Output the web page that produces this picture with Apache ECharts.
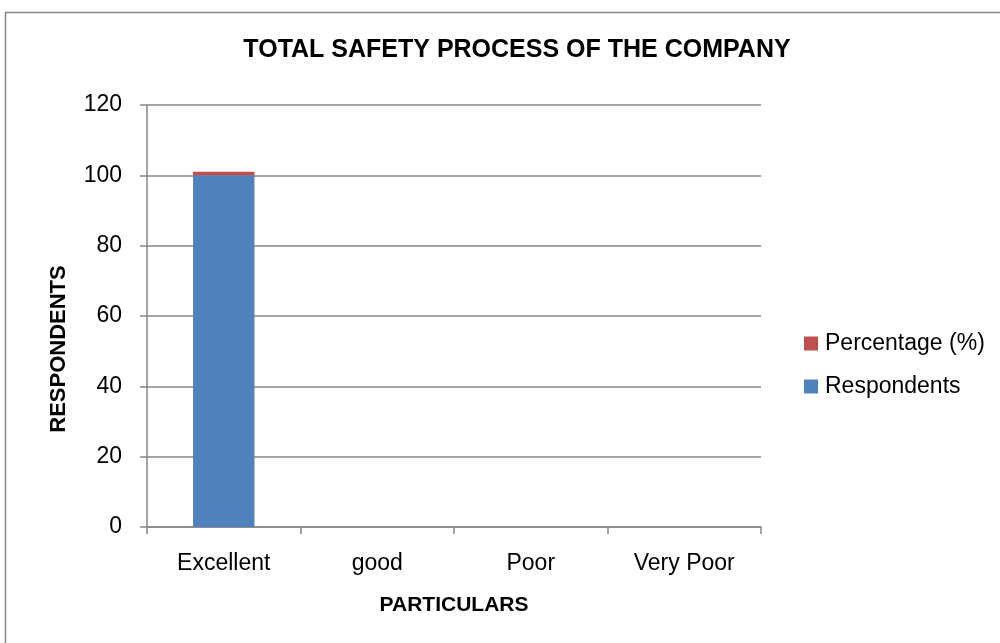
<!DOCTYPE html>
<html><head><meta charset="utf-8">
<script src="https://cdn.jsdelivr.net/npm/echarts@6/dist/echarts.min.js"></script>
<style>html,body{margin:0;padding:0;background:#fff}#c{width:1000px;height:643px}</style>
</head><body><div id="c"></div>
<script>
const categories = ['Excellent', 'good', 'Poor', 'Very Poor'];
const respondents = [100, 0, 0, 0];
const percentage = [1, 0, 0, 0];
const yTicks = [0, 20, 40, 60, 80, 100, 120];

const chart = echarts.init(document.getElementById('c'));
const font = '"Liberation Sans", sans-serif';
chart.setOption({
  animation: false,
  graphic: [{type: 'rect', shape: {x: 5.5, y: 12.5, width: 1000, height: 700}, style: {fill: 'none', stroke: '#868686', lineWidth: 1.5}}],
  title: {text: 'TOTAL SAFETY PROCESS OF THE COMPANY', left: 512, top: 33, textAlign: 'center',
    textStyle: {fontFamily: font, fontWeight: 'bold', fontSize: 25, color: '#000'}},
  legend: {orient: 'vertical', left: 799, top: 327, itemWidth: 14, itemHeight: 14, itemGap: 20, padding: 5,
    data: ['Percentage (%)', 'Respondents'],
    textStyle: {fontFamily: font, fontSize: 23, color: '#000', padding: [0, 0, 0, 2]}, icon: 'rect'},
  grid: {left: 147, right: 239, top: 105, bottom: 116},
  xAxis: {type: 'category', data: categories, name: 'PARTICULARS', nameLocation: 'middle', nameGap: 68,
    nameTextStyle: {fontFamily: font, fontWeight: 'bold', fontSize: 21, color: '#000'},
    axisLine: {lineStyle: {color: '#868686', width: 1.5}},
    axisTick: {show: true, alignWithLabel: false, length: 7, lineStyle: {color: '#868686', width: 1.5}},
    axisLabel: {fontFamily: font, fontSize: 23, color: '#000', margin: 25}},
  yAxis: {type: 'value', min: 0, max: 120, interval: 20, name: 'RESPONDENTS', nameLocation: 'middle', nameGap: 77,
    nameTextStyle: {fontFamily: font, fontWeight: 'bold', fontSize: 22, color: '#000', padding: [0, 66, 0, 0]},
    axisLine: {show: true, lineStyle: {color: '#868686', width: 1.5}},
    axisTick: {show: true, length: 7, lineStyle: {color: '#868686', width: 1.5}},
    splitLine: {lineStyle: {color: '#868686', width: 1.5}},
    axisLabel: {fontFamily: font, fontSize: 23, color: '#000', margin: 25,
      formatter: v => yTicks.includes(v) ? String(v) : ''}},
  series: [
    {name: 'Respondents', type: 'bar', stack: 's', data: respondents, barWidth: '40%', itemStyle: {color: '#4F81BD'}},
    {name: 'Percentage (%)', type: 'bar', stack: 's', data: percentage, barWidth: '40%', itemStyle: {color: '#C0504D'}}
  ]
});
</script></body></html>
